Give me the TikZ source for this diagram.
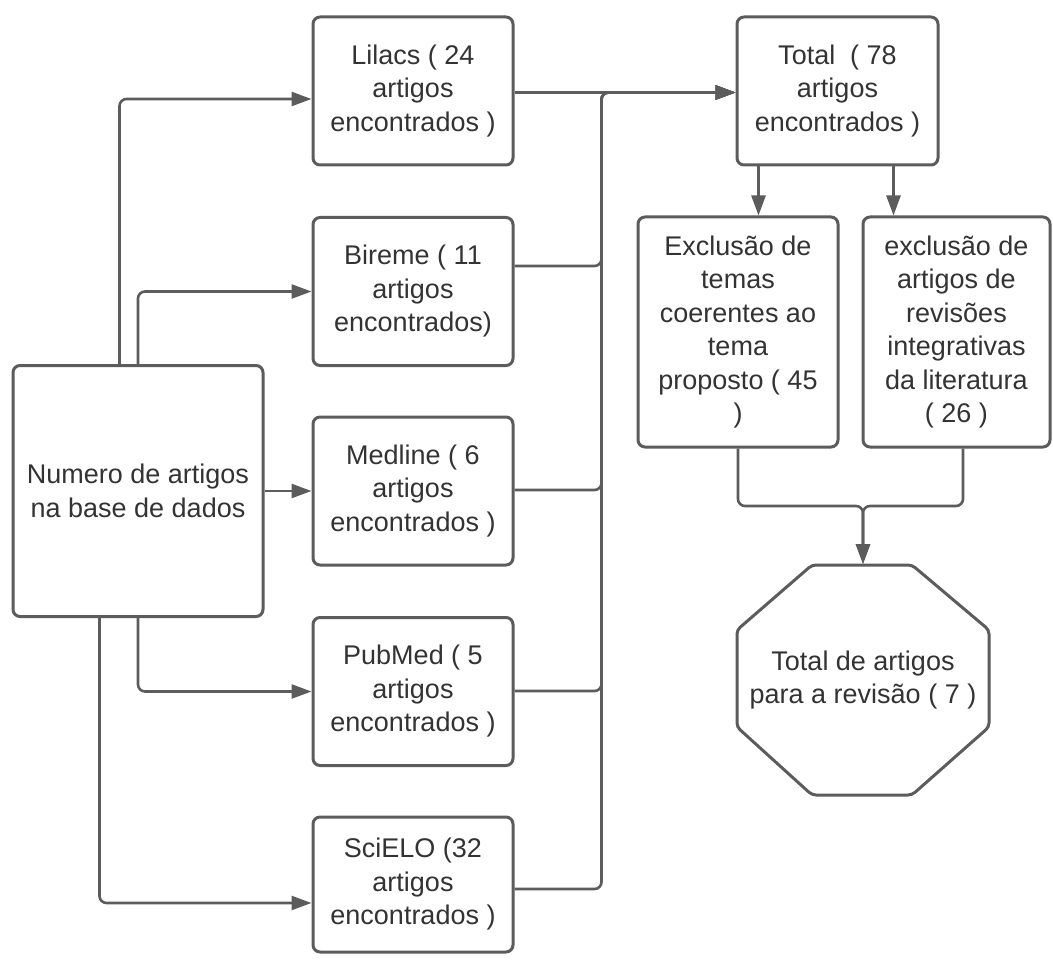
\documentclass[tikz,border=0pt]{standalone}
\usepackage{fontspec}
\setmainfont{Liberation Sans}
\usetikzlibrary{arrows.meta,calc}
\definecolor{linec}{RGB}{92,92,92}
\definecolor{textc}{RGB}{51,51,51}
\begin{document}
\begin{tikzpicture}[x=1pt,y=-1pt,
  box/.style={draw=linec, line width=3pt, rounded corners=7pt, fill=white, align=center, text=textc, font=\fontsize{27}{33.5}\selectfont, inner sep=0pt},
  conn/.style={draw=linec, line width=2.6pt, rounded corners=7pt, -{Triangle[length=20pt,width=14pt]}},
  lbl/.style={text=textc, align=center, font=\fontsize{27}{33.5}\selectfont, inner sep=0pt}]
\useasboundingbox (0,0) rectangle (1053,960);
\fill[white] (0,0) rectangle (1053,960);

% nodes
\node[box, minimum width=250pt, minimum height=251pt] (db) at (138,491) {Numero de artigos\\na base de dados};
\node[box, minimum width=200pt, minimum height=148pt] (lil) at (413,91) {Lilacs ( 24\\artigos\\encontrados )};
\node[box, minimum width=200pt, minimum height=148pt] (bir) at (413,291.5) {Bireme ( 11\\artigos\\encontrados)};
\node[box, minimum width=200pt, minimum height=148pt] (med) at (413,491) {Medline ( 6\\artigos\\encontrados )};
\node[box, minimum width=200pt, minimum height=148pt] (pub) at (413,691.5) {PubMed ( 5\\artigos\\encontrados )};
\node[box, minimum width=200pt, minimum height=135pt] (sci) at (413,884.5) {SciELO (32\\artigos\\encontrados )};
\node[box, minimum width=201pt, minimum height=148pt] (tot) at (837.5,91) {Total\ \ ( 78\\artigos\\encontrados )};
\node[box, minimum width=200pt, minimum height=230pt] (ex1) at (738,332) {Exclusão de\\temas\\coerentes ao\\tema\\proposto ( 45\\)};
\node[box, minimum width=187pt, minimum height=230pt] (ex2) at (956.5,332) {exclusão de\\artigos de\\revisões\\integrativas\\da literatura\\( 26 )};

% octagon
\draw[linec, line width=3pt, rounded corners=4pt, fill=white] (812,565) -- (912,565) -- (989,630) -- (989,727) -- (912,795) -- (812,795) -- (737,727) -- (737,630) -- cycle;
\node[lbl] (oct) at (863,680) {Total de artigos\\para a revisão ( 7 )};
\coordinate (octtop) at (863,564);

% from database box to sources
\draw[conn] ($(db.north west)+(108,0)$) |- ($(lil.west)+(0,8)$);
\draw[conn] (db.north) |- (bir.west);
\draw[conn] (db.east) -- (med.west);
\draw[conn] (db.south) |- (pub.west);
\draw[conn] ($(db.south west)+(88,0)$) |- ($(sci.west)+(0,18.5)$);

% merge to total
\coordinate (mtop) at ($(lil.east)+(87,1.5)$);
\draw[conn] ($(lil.east)+(0,1.5)$) -- ($(tot.west)+(0,1.5)$);
\draw[conn] ($(bir.east)+(0,-25.5)$) -| (mtop) -- ($(tot.west)+(0,1.5)$);
\draw[conn] ($(med.east)+(0,-1)$) -| (mtop) -- ($(tot.west)+(0,1.5)$);
\draw[conn] ($(pub.east)+(0,-0.5)$) -| (mtop) -- ($(tot.west)+(0,1.5)$);
\draw[conn] ($(sci.east)+(0,4.5)$) -| (mtop) -- ($(tot.west)+(0,1.5)$);

% total to exclusions
\coordinate (t1) at ($(tot.south west)+(23,0)$);
\coordinate (t2) at ($(tot.south west)+(158,0)$);
\draw[conn] (t1) -- (t1 |- ex1.north);
\draw[conn] (t2) -- (t2 |- ex2.north);

% exclusions to final
\coordinate (e2) at ($(ex2.south)+(6.5,0)$);
\coordinate (jn) at ($(octtop)+(0,-58)$);
\draw[conn] (ex1.south) |- (jn) -- (octtop);
\draw[conn] (e2) |- (jn) -- (octtop);
\end{tikzpicture}
\end{document}
